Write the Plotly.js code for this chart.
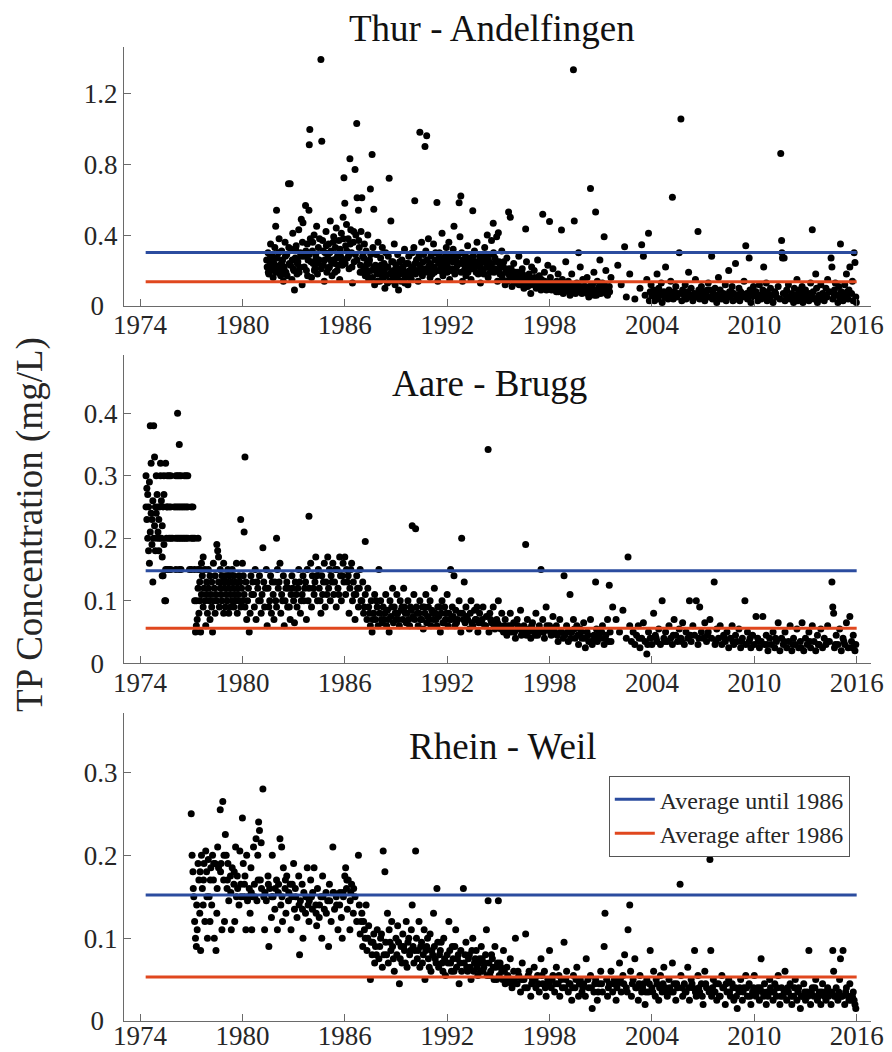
<!DOCTYPE html>
<html>
<head>
<meta charset="utf-8">
<script src="https://cdn.plot.ly/plotly-3.0.1.min.js"></script>
<style>html,body{margin:0;padding:0;background:#fff;}#chart{width:892px;height:1052px;}</style>
</head>
<body>
<div id="chart"></div>
<script>
// ---------------- DATA ----------------
const panelTitles = ["Thur - Andelfingen", "Aare - Brugg", "Rhein - Weil"];
const yAxisTitle = "TP Concentration (mg/L)";
const legendNames = ["Average until 1986", "Average after 1986"];
const xTickVals = [1974, 1980, 1986, 1992, 1998, 2004, 2010, 2016];
const yTicksThur = [0, 0.4, 0.8, 1.2];
const yTicksAare = [0, 0.1, 0.2, 0.3, 0.4];
const yTicksRhein = [0, 0.1, 0.2, 0.3];
const avgPeriod = [1974.33, 2016];
const avgUntil1986 = [0.302, 0.148, 0.152];
const avgAfter1986 = [0.137, 0.056, 0.053];

// Thur - Andelfingen samples [decimal year, TP mg/L]
const thurSamples = [
[1981.45,0.22],[1981.5,0.30],[1981.55,0.18],[1981.6,0.25],[1981.65,0.35],[1981.7,0.21],[1981.75,0.28],[1981.8,0.16],[1981.85,0.24],[1981.9,0.33],[1981.95,0.45],[1981.98,0.19],
[1982.0,0.54],[1982.05,0.27],[1982.1,0.20],[1982.15,0.38],[1982.2,0.23],[1982.25,0.17],[1982.3,0.31],[1982.35,0.26],[1982.4,0.14],[1982.45,0.22],[1982.5,0.36],[1982.55,0.19],[1982.6,0.29],[1982.7,0.69],[1982.75,0.24],[1982.8,0.69],[1982.85,0.32],[1982.9,0.15],[1982.95,0.41],[1982.98,0.21],
[1983.05,0.09],[1983.1,0.27],[1983.15,0.34],[1983.2,0.18],[1983.25,0.25],[1983.3,0.43],[1983.35,0.22],[1983.4,0.30],[1983.45,0.49],[1983.5,0.12],[1983.55,0.47],[1983.6,0.28],[1983.7,0.567],[1983.75,0.20],[1983.8,0.35],[1983.85,0.26],[1983.9,0.54],[1983.92,0.91],[1983.95,0.995],[1983.98,0.38],
[1984.05,0.16],[1984.1,0.31],[1984.15,0.24],[1984.2,0.40],[1984.25,0.21],[1984.3,0.29],[1984.35,0.45],[1984.4,0.18],[1984.45,0.33],[1984.5,0.26],[1984.6,1.39],[1984.65,0.93],[1984.7,0.37],[1984.75,0.23],[1984.8,0.14],[1984.85,0.30],[1984.9,0.42],[1984.95,0.19],
[1985.0,0.27],[1985.05,0.35],[1985.1,0.22],[1985.15,0.48],[1985.2,0.31],[1985.25,0.17],[1985.3,0.26],[1985.35,0.39],[1985.4,0.24],[1985.45,0.33],[1985.5,0.44],[1985.55,0.20],[1985.6,0.29],[1985.65,0.37],[1985.7,0.15],[1985.75,0.28],[1985.8,0.41],[1985.85,0.23],[1985.9,0.50],[1985.95,0.723],
[1986.0,0.58],[1986.05,0.34],[1986.1,0.46],[1986.15,0.27],[1986.2,0.38],[1986.25,0.21],[1986.3,0.83],[1986.35,0.43],[1986.4,0.30],[1986.45,0.13],[1986.5,0.36],[1986.55,0.25],[1986.6,0.77],[1986.65,0.40],[1986.7,1.03],[1986.72,0.61],[1986.8,0.54],[1986.85,0.33],[1986.9,0.19],[1986.95,0.42],
[1987.0,0.61],[1987.05,0.28],[1987.1,0.22],[1987.15,0.35],[1987.2,0.17],[1987.25,0.31],[1987.3,0.24],[1987.35,0.40],[1987.4,0.15],[1987.45,0.26],[1987.5,0.66],[1987.55,0.20],[1987.6,0.855],[1987.65,0.33],[1987.7,0.546],[1987.75,0.12],[1987.8,0.23],[1987.85,0.29],[1987.9,0.18],[1987.95,0.36],
[1988.0,0.21],[1988.05,0.14],[1988.1,0.27],[1988.15,0.19],[1988.2,0.33],[1988.25,0.16],[1988.3,0.24],[1988.35,0.10],[1988.4,0.30],[1988.45,0.22],[1988.5,0.13],[1988.55,0.28],[1988.6,0.72],[1988.65,0.18],[1988.7,0.48],[1988.75,0.25],[1988.8,0.15],[1988.85,0.20],[1988.9,0.35],[1988.95,0.12],
[1989.0,0.23],[1989.05,0.17],[1989.1,0.29],[1989.15,0.09],[1989.2,0.21],[1989.3,0.14],[1989.35,0.26],[1989.4,0.19],[1989.5,0.32],[1989.55,0.16],[1989.6,0.24],[1989.7,0.12],[1989.75,0.28],[1989.8,0.20],[1989.9,0.15],[1989.95,0.30],
[1990.0,0.22],[1990.05,0.33],[1990.1,0.593],[1990.15,0.18],[1990.2,0.26],[1990.3,0.14],[1990.35,0.29],[1990.4,0.98],[1990.45,0.21],[1990.5,0.36],[1990.55,0.17],[1990.6,0.25],[1990.7,0.90],[1990.75,0.31],[1990.8,0.96],[1990.85,0.19],[1990.9,0.38],[1990.95,0.23],
[1991.0,0.16],[1991.05,0.28],[1991.1,0.21],[1991.2,0.35],[1991.25,0.19],[1991.3,0.26],[1991.4,0.584],[1991.45,0.14],[1991.5,0.24],[1991.55,0.30],[1991.6,0.20],[1991.7,0.41],[1991.75,0.17],[1991.8,0.27],[1991.9,0.22],[1991.95,0.33],
[1992.0,0.19],[1992.05,0.25],[1992.1,0.36],[1992.15,0.15],[1992.2,0.28],[1992.3,0.21],[1992.35,0.32],[1992.4,0.45],[1992.45,0.18],[1992.5,0.26],[1992.6,0.23],[1992.7,0.582],[1992.75,0.39],[1992.8,0.62],[1992.85,0.30],[1992.9,0.14],[1992.95,0.24],
[1993.0,0.20],[1993.05,0.29],[1993.1,0.17],[1993.2,0.34],[1993.25,0.22],[1993.3,0.27],[1993.4,0.15],[1993.5,0.537],[1993.55,0.25],[1993.6,0.31],[1993.7,0.19],[1993.75,0.36],[1993.8,0.23],[1993.9,0.28],[1993.95,0.13],
[1994.0,0.21],[1994.1,0.26],[1994.15,0.18],[1994.2,0.33],[1994.3,0.24],[1994.35,0.40],[1994.4,0.16],[1994.5,0.29],[1994.55,0.22],[1994.6,0.37],[1994.7,0.467],[1994.75,0.19],[1994.8,0.27],[1994.9,0.39],[1994.95,0.14],
[1995.0,0.413],[1995.05,0.25],[1995.1,0.18],[1995.2,0.31],[1995.25,0.15],[1995.3,0.22],[1995.4,0.12],[1995.5,0.27],[1995.6,0.53],[1995.65,0.17],[1995.7,0.50],[1995.75,0.21],[1995.8,0.11],[1995.9,0.24],[1995.95,0.16],
[1996.0,0.19],[1996.1,0.13],[1996.2,0.28],[1996.3,0.16],[1996.4,0.21],[1996.5,0.10],[1996.6,0.434],[1996.65,0.25],[1996.7,0.14],[1996.8,0.18],[1996.9,0.07],[1996.95,0.22],
[1997.0,0.15],[1997.1,0.20],[1997.2,0.12],[1997.3,0.26],[1997.4,0.17],[1997.5,0.09],[1997.6,0.518],[1997.65,0.14],[1997.7,0.19],[1997.8,0.11],[1997.9,0.23],[1997.95,0.13],
[1998.0,0.477],[1998.05,0.16],[1998.1,0.10],[1998.2,0.21],[1998.3,0.13],[1998.4,0.08],[1998.5,0.18],[1998.6,0.11],[1998.7,0.428],[1998.75,0.15],[1998.8,0.07],[1998.9,0.12],[1998.95,0.25],
[1999.0,0.09],[1999.1,0.14],[1999.2,0.06],[1999.3,0.18],[1999.35,0.11],[1999.4,1.333],[1999.45,0.479],[1999.5,0.08],[1999.6,0.13],[1999.7,0.30],[1999.75,0.10],[1999.8,0.22],[1999.9,0.07],[1999.95,0.15],
[2000.0,0.11],[2000.1,0.08],[2000.2,0.16],[2000.3,0.05],[2000.4,0.663],[2000.45,0.12],[2000.5,0.09],[2000.6,0.19],[2000.7,0.53],[2000.75,0.06],[2000.8,0.14],[2000.9,0.10],[2000.95,0.26],
[2001.0,0.07],[2001.1,0.13],[2001.2,0.39],[2001.25,0.09],[2001.3,0.20],[2001.4,0.06],[2001.5,0.11],[2001.6,0.16],
[2002.0,0.23],[2002.2,0.12],[2002.4,0.334],[2002.5,0.05],[2002.7,0.18],
[2003.0,0.04],[2003.3,0.10],[2003.4,0.345],[2003.5,0.28],[2003.6,0.06],[2003.7,0.15],[2003.8,0.41],[2003.85,0.03],[2003.9,0.08],[2003.95,0.12],
[2004.0,0.05],[2004.1,0.09],[2004.15,0.03],[2004.2,0.07],[2004.3,0.18],[2004.35,0.04],[2004.4,0.10],[2004.5,0.06],[2004.55,0.13],[2004.6,0.02],[2004.7,0.08],[2004.75,0.05],[2004.8,0.22],[2004.9,0.07],[2004.95,0.04],
[2005.0,0.09],[2005.05,0.06],[2005.1,0.14],[2005.2,0.614],[2005.25,0.04],[2005.3,0.08],[2005.4,0.11],[2005.45,0.05],[2005.5,0.07],[2005.6,0.30],[2005.7,1.055],[2005.75,0.03],[2005.8,0.09],[2005.9,0.06],[2005.95,0.12],
[2006.0,0.04],[2006.1,0.08],[2006.15,0.19],[2006.2,0.05],[2006.3,0.10],[2006.4,0.03],[2006.5,0.07],[2006.55,0.15],[2006.6,0.05],[2006.7,0.42],[2006.75,0.09],[2006.8,0.04],[2006.9,0.11],[2006.95,0.06],
[2007.0,0.08],[2007.1,0.03],[2007.2,0.06],[2007.3,0.13],[2007.35,0.05],[2007.4,0.09],[2007.5,0.28],[2007.55,0.04],[2007.6,0.07],[2007.7,0.10],[2007.8,0.02],[2007.85,0.06],[2007.9,0.16],[2007.95,0.05],
[2008.0,0.09],[2008.1,0.04],[2008.2,0.07],[2008.3,0.12],[2008.35,0.03],[2008.4,0.06],[2008.5,0.20],[2008.55,0.08],[2008.6,0.05],[2008.7,0.11],[2008.75,0.03],[2008.8,0.07],[2008.9,0.24],[2008.95,0.04],
[2009.0,0.06],[2009.1,0.10],[2009.15,0.03],[2009.2,0.08],[2009.3,0.05],[2009.4,0.14],[2009.5,0.34],[2009.55,0.07],[2009.6,0.04],[2009.7,0.27],[2009.75,0.09],[2009.8,0.02],[2009.9,0.06],[2009.95,0.11],
[2010.0,0.05],[2010.1,0.08],[2010.2,0.03],[2010.3,0.12],[2010.35,0.06],[2010.4,0.04],[2010.5,0.09],[2010.55,0.22],[2010.6,0.05],[2010.7,0.13],[2010.75,0.03],[2010.8,0.07],[2010.9,0.04],[2010.95,0.10],
[2011.0,0.06],[2011.1,0.02],[2011.2,0.08],[2011.3,0.05],[2011.4,0.11],[2011.5,0.04],[2011.55,0.86],[2011.6,0.37],[2011.62,0.30],[2011.65,0.27],[2011.7,0.07],[2011.75,0.27],[2011.8,0.03],[2011.9,0.09],[2011.95,0.05],
[2012.0,0.12],[2012.1,0.04],[2012.2,0.07],[2012.3,0.02],[2012.35,0.10],[2012.4,0.06],[2012.5,0.15],[2012.55,0.03],[2012.6,0.08],[2012.7,0.05],[2012.8,0.11],[2012.85,0.02],[2012.9,0.07],[2012.95,0.04],
[2013.0,0.09],[2013.1,0.05],[2013.2,0.03],[2013.3,0.13],[2013.35,0.06],[2013.4,0.43],[2013.45,0.08],[2013.5,0.04],[2013.6,0.18],[2013.65,0.10],[2013.7,0.02],[2013.8,0.06],[2013.9,0.12],[2013.95,0.04],
[2014.0,0.07],[2014.1,0.03],[2014.2,0.10],[2014.25,0.05],[2014.3,0.15],[2014.4,0.08],[2014.5,0.27],[2014.55,0.22],[2014.6,0.04],[2014.7,0.09],[2014.75,0.13],[2014.8,0.06],[2014.9,0.02],[2014.95,0.11],
[2015.0,0.05],[2015.05,0.35],[2015.1,0.08],[2015.2,0.03],[2015.3,0.12],[2015.35,0.06],[2015.4,0.18],[2015.5,0.04],[2015.55,0.09],[2015.6,0.22],[2015.7,0.07],[2015.75,0.14],[2015.8,0.03],[2015.85,0.30],[2015.9,0.245],[2015.95,0.05],[2015.98,0.02],
[1981.42,0.26],[1981.52,0.19],[1981.62,0.29],[1981.72,0.24],[1981.82,0.20],[1981.92,0.27],
[1982.02,0.22],[1982.12,0.30],[1982.22,0.18],[1982.32,0.25],[1982.42,0.21],[1982.52,0.28],[1982.62,0.17],[1982.72,0.33],[1982.82,0.23],[1982.92,0.26],
[1983.02,0.20],[1983.12,0.32],[1983.22,0.24],[1983.32,0.19],[1983.42,0.28],[1983.52,0.36],[1983.62,0.22],[1983.72,0.31],[1983.82,0.17],[1983.92,0.29],
[1984.02,0.25],[1984.12,0.36],[1984.22,0.20],[1984.32,0.27],[1984.42,0.24],[1984.52,0.38],[1984.62,0.21],[1984.72,0.31],[1984.82,0.26],[1984.92,0.34],
[1985.02,0.21],[1985.12,0.30],[1985.22,0.25],[1985.32,0.36],[1985.42,0.19],[1985.52,0.27],[1985.62,0.23],[1985.72,0.32],[1985.82,0.26],[1985.92,0.38],
[1986.02,0.24],[1986.12,0.31],[1986.22,0.28],[1986.32,0.35],[1986.42,0.22],[1986.52,0.42],[1986.62,0.29],[1986.72,0.26],[1986.82,0.37],[1986.92,0.23],
[1987.02,0.19],[1987.12,0.27],[1987.22,0.21],[1987.32,0.18],[1987.42,0.24],[1987.52,0.29],[1987.62,0.16],[1987.72,0.22],[1987.82,0.20],[1987.92,0.14],
[1988.02,0.18],[1988.12,0.23],[1988.22,0.16],[1988.32,0.20],[1988.42,0.17],[1988.52,0.22],[1988.62,0.14],[1988.72,0.19],[1988.82,0.25],[1988.92,0.17],
[1989.02,0.20],[1989.12,0.15],[1989.22,0.25],[1989.32,0.18],[1989.42,0.22],[1989.52,0.13],[1989.62,0.19],[1989.72,0.24],[1989.82,0.17],[1989.92,0.21],
[1990.02,0.19],[1990.12,0.24],[1990.22,0.20],[1990.32,0.27],[1990.42,0.23],[1990.52,0.18],[1990.62,0.29],[1990.72,0.21],[1990.82,0.26],[1990.92,0.20],
[1991.02,0.24],[1991.12,0.18],[1991.22,0.22],[1991.32,0.30],[1991.42,0.20],[1991.52,0.27],[1991.62,0.23],[1991.72,0.19],[1991.82,0.25],[1991.92,0.29],
[1992.02,0.22],[1992.12,0.27],[1992.22,0.20],[1992.32,0.25],[1992.42,0.29],[1992.52,0.21],[1992.62,0.28],[1992.72,0.24],[1992.82,0.19],[1992.92,0.26],
[1993.02,0.23],[1993.12,0.26],[1993.22,0.19],[1993.32,0.24],[1993.42,0.21],[1993.52,0.28],[1993.62,0.22],[1993.72,0.25],[1993.82,0.18],[1993.92,0.23],
[1994.02,0.25],[1994.12,0.20],[1994.22,0.28],[1994.32,0.22],[1994.42,0.26],[1994.52,0.19],[1994.62,0.24],[1994.72,0.30],[1994.82,0.21],[1994.92,0.25],
[1995.02,0.20],[1995.12,0.23],[1995.22,0.17],[1995.32,0.25],[1995.42,0.19],[1995.52,0.14],[1995.62,0.21],[1995.72,0.16],[1995.82,0.19],[1995.92,0.13],
[1996.02,0.16],[1996.12,0.19],[1996.22,0.12],[1996.32,0.15],[1996.42,0.18],[1996.52,0.13],[1996.62,0.16],[1996.72,0.11],[1996.82,0.15],[1996.92,0.12],
[1997.02,0.13],[1997.12,0.16],[1997.22,0.10],[1997.32,0.14],[1997.42,0.12],[1997.52,0.15],[1997.62,0.11],[1997.72,0.14],[1997.82,0.09],[1997.92,0.12],
[1998.02,0.13],[1998.12,0.09],[1998.22,0.12],[1998.32,0.10],[1998.42,0.14],[1998.52,0.08],[1998.62,0.11],[1998.72,0.09],[1998.82,0.13],[1998.92,0.10],
[1999.02,0.12],[1999.12,0.08],[1999.22,0.11],[1999.32,0.09],[1999.42,0.12],[1999.52,0.07],[1999.62,0.10],[1999.72,0.08],[1999.82,0.11],[1999.92,0.09],
[2000.02,0.09],[2000.12,0.11],[2000.22,0.07],[2000.32,0.10],[2000.42,0.08],[2000.52,0.12],[2000.62,0.06],[2000.72,0.09],[2000.82,0.07],[2000.92,0.11],
[2001.02,0.10],[2001.12,0.08],[2001.22,0.12],[2001.32,0.07],[2001.42,0.09],[2001.52,0.08],
[2004.05,0.06],[2004.45,0.08],[2005.15,0.05],[2005.65,0.07],[2006.25,0.06],[2006.85,0.07],[2007.25,0.09],[2007.65,0.05],[2008.25,0.06],[2008.65,0.08],[2009.25,0.07],[2009.65,0.05],[2010.25,0.06],[2010.65,0.08],[2011.25,0.07],[2011.85,0.06],[2012.25,0.05],[2012.65,0.09],[2013.25,0.07],[2013.75,0.05],[2014.15,0.06],[2014.65,0.07],[2015.15,0.06],[2015.45,0.08]
];

// Aare - Brugg samples [decimal year, TP mg/L]
const aareSamples = [
[1974.35,0.30],[1974.35,0.25],[1974.4,0.28],[1974.4,0.23],[1974.45,0.20],[1974.45,0.27],[1974.5,0.18],[1974.5,0.25],[1974.55,0.16],[1974.55,0.29],[1974.6,0.21],[1974.6,0.38],[1974.65,0.24],[1974.65,0.32],[1974.7,0.19],[1974.7,0.23],[1974.75,0.26],[1974.75,0.13],[1974.8,0.38],[1974.8,0.20],[1974.85,0.33],[1974.85,0.22],[1974.9,0.25],[1974.9,0.18],[1974.95,0.30],[1974.95,0.24],[1975.0,0.20],[1975.0,0.27],[1975.05,0.21],[1975.05,0.25],[1975.1,0.23],[1975.1,0.18],[1975.15,0.25],[1975.15,0.20],[1975.2,0.30],[1975.2,0.32],[1975.25,0.26],[1975.25,0.20],[1975.3,0.17],[1975.3,0.22],[1975.35,0.14],[1975.35,0.25],[1975.4,0.19],[1975.4,0.30],[1975.45,0.10],[1975.5,0.10],[1975.5,0.15],[1975.55,0.25],[1975.55,0.20],[1975.6,0.30],[1975.6,0.15],
[1975.7,0.30],[1975.8,0.30],[1976.1,0.30],[1976.2,0.30],[1976.3,0.30],[1976.4,0.30],[1976.6,0.30],[1976.7,0.30],[1976.8,0.30],
[1975.6,0.25],[1975.7,0.25],[1975.8,0.25],[1976.0,0.25],[1976.1,0.25],[1976.2,0.25],[1976.3,0.25],[1976.4,0.25],[1976.5,0.25],[1976.6,0.25],[1976.7,0.25],[1976.8,0.25],[1977.0,0.25],[1977.1,0.25],
[1975.7,0.20],[1975.8,0.20],[1975.9,0.20],[1976.1,0.20],[1976.2,0.20],[1976.3,0.20],[1976.4,0.20],[1976.5,0.20],[1976.6,0.20],[1976.7,0.20],[1976.8,0.20],[1977.0,0.20],[1977.1,0.20],[1977.2,0.20],[1977.4,0.20],
[1975.7,0.15],[1975.8,0.15],[1976.1,0.15],[1976.3,0.15],[1976.4,0.15],[1976.9,0.15],[1977.0,0.15],[1977.2,0.15],[1977.4,0.15],[1977.5,0.15],
[1976.2,0.40],[1976.3,0.35],[1975.5,0.32],[1975.4,0.27],[1975.3,0.14],
[1977.2,0.10],[1977.25,0.05],[1977.3,0.06],[1977.3,0.10],[1977.35,0.07],[1977.4,0.12],[1977.45,0.08],[1977.5,0.10],[1977.5,0.13],[1977.55,0.05],[1977.6,0.16],[1977.6,0.11],[1977.65,0.14],[1977.7,0.09],[1977.7,0.17],[1977.75,0.12],[1977.8,0.10],[1977.8,0.15],[1977.85,0.06],[1977.9,0.13],[1977.9,0.11],[1977.95,0.08],
[1978.0,0.12],[1978.0,0.15],[1978.05,0.10],[1978.1,0.14],[1978.1,0.07],[1978.15,0.11],[1978.2,0.13],[1978.2,0.09],[1978.25,0.05],[1978.3,0.16],[1978.3,0.10],[1978.35,0.12],[1978.4,0.14],[1978.4,0.08],[1978.45,0.11],[1978.5,0.19],[1978.5,0.10],[1978.55,0.18],[1978.6,0.13],[1978.6,0.17],[1978.65,0.09],[1978.7,0.12],[1978.7,0.15],[1978.75,0.11],[1978.8,0.14],[1978.8,0.10],[1978.85,0.13],[1978.9,0.08],[1978.9,0.16],[1978.95,0.12],
[1979.0,0.14],[1979.0,0.09],[1979.05,0.11],[1979.1,0.13],[1979.1,0.10],[1979.15,0.15],[1979.2,0.12],[1979.2,0.08],[1979.25,0.14],[1979.3,0.11],[1979.3,0.09],[1979.35,0.13],[1979.4,0.10],[1979.4,0.15],[1979.45,0.12],[1979.5,0.09],[1979.5,0.14],[1979.55,0.11],[1979.6,0.13],[1979.6,0.10],[1979.65,0.16],[1979.7,0.12],[1979.7,0.08],[1979.75,0.11],[1979.8,0.14],[1979.8,0.10],[1979.85,0.13],[1979.9,0.23],[1979.9,0.09],[1979.95,0.12],
[1980.0,0.16],[1980.0,0.10],[1980.05,0.14],[1980.1,0.21],[1980.1,0.11],[1980.15,0.33],[1980.15,0.09],[1980.2,0.13],[1980.25,0.07],[1980.3,0.10],[1980.35,0.12],[1980.4,0.05],[1980.45,0.08],[1980.5,0.14],[1980.55,0.11],
[1980.6,0.13],[1980.7,0.09],[1980.75,0.15],[1980.8,0.07],[1980.9,0.12],[1980.95,0.10],[1981.0,0.14],[1981.1,0.08],[1981.15,0.11],[1981.2,0.185],[1981.25,0.13],[1981.3,0.09],[1981.4,0.15],[1981.45,0.06],[1981.5,0.12],[1981.6,0.10],[1981.65,0.14],[1981.7,0.08],[1981.8,0.11],[1981.85,0.07],[1981.9,0.13],
[1982.0,0.20],[1982.0,0.09],[1982.05,0.15],[1982.1,0.12],[1982.2,0.16],[1982.25,0.08],[1982.3,0.11],[1982.4,0.14],[1982.45,0.06],[1982.5,0.10],[1982.6,0.13],[1982.65,0.09],[1982.7,0.12],[1982.8,0.07],[1982.85,0.11],[1982.9,0.14],
[1983.0,0.10],[1983.05,0.065],[1983.1,0.13],[1983.2,0.09],[1983.25,0.12],[1983.3,0.15],[1983.4,0.08],[1983.5,0.11],[1983.55,0.14],[1983.6,0.10],[1983.7,0.13],[1983.75,0.07],[1983.8,0.15],[1983.9,0.235],[1983.9,0.12],
[1984.0,0.16],[1984.05,0.09],[1984.1,0.14],[1984.2,0.11],[1984.25,0.13],[1984.3,0.17],[1984.4,0.10],[1984.45,0.15],[1984.5,0.12],[1984.6,0.08],[1984.65,0.14],[1984.7,0.11],[1984.8,0.16],[1984.85,0.09],[1984.9,0.13],
[1985.0,0.17],[1985.05,0.12],[1985.1,0.15],[1985.15,0.10],[1985.2,0.14],[1985.3,0.16],[1985.35,0.11],[1985.4,0.13],[1985.5,0.09],[1985.55,0.15],[1985.6,0.12],[1985.7,0.17],[1985.75,0.14],[1985.8,0.10],[1985.9,0.16],[1985.95,0.13],
[1986.0,0.17],[1986.05,0.11],[1986.1,0.15],[1986.2,0.14],[1986.25,0.08],[1986.3,0.12],[1986.4,0.16],[1986.45,0.10],[1986.5,0.13],[1986.6,0.07],[1986.65,0.11],[1986.7,0.14],[1986.8,0.09],[1986.85,0.12],[1986.9,0.15],
[1987.0,0.10],[1987.05,0.13],[1987.1,0.08],[1987.2,0.195],[1987.2,0.11],[1987.3,0.07],[1987.35,0.12],[1987.4,0.09],[1987.5,0.06],[1987.55,0.10],[1987.6,0.05],[1987.7,0.08],[1987.75,0.11],[1987.8,0.07],[1987.9,0.09],[1987.95,0.06],
[1988.0,0.15],[1988.05,0.08],[1988.1,0.10],[1988.2,0.065],[1988.25,0.09],[1988.3,0.07],[1988.4,0.11],[1988.45,0.06],[1988.5,0.085],[1988.6,0.05],[1988.65,0.10],[1988.7,0.075],[1988.8,0.12],[1988.85,0.065],[1988.9,0.09],
[1989.0,0.07],[1989.05,0.11],[1989.1,0.08],[1989.2,0.06],[1989.25,0.10],[1989.3,0.085],[1989.4,0.07],[1989.45,0.12],[1989.5,0.09],[1989.6,0.065],[1989.65,0.08],[1989.7,0.10],[1989.8,0.06],[1989.85,0.09],[1989.95,0.22],[1990.0,0.075],
[1990.05,0.11],[1990.1,0.07],[1990.15,0.215],[1990.2,0.09],[1990.3,0.06],[1990.35,0.08],[1990.4,0.10],[1990.5,0.07],[1990.55,0.09],[1990.6,0.055],[1990.7,0.08],[1990.75,0.11],[1990.8,0.065],[1990.9,0.09],[1990.95,0.07],
[1991.0,0.10],[1991.05,0.06],[1991.1,0.085],[1991.2,0.07],[1991.25,0.12],[1991.3,0.08],[1991.4,0.06],[1991.45,0.09],[1991.5,0.075],[1991.6,0.05],[1991.65,0.08],[1991.7,0.10],[1991.8,0.065],[1991.85,0.09],[1991.9,0.07],
[1992.0,0.11],[1992.05,0.06],[1992.1,0.08],[1992.2,0.15],[1992.25,0.07],[1992.3,0.09],[1992.4,0.14],[1992.45,0.06],[1992.5,0.085],[1992.6,0.07],[1992.7,0.10],[1992.8,0.05],[1992.85,0.20],[1992.9,0.08],
[1993.0,0.13],[1993.05,0.065],[1993.1,0.09],[1993.2,0.07],[1993.3,0.055],[1993.35,0.08],[1993.4,0.10],[1993.5,0.06],[1993.6,0.085],[1993.7,0.07],[1993.75,0.09],[1993.8,0.05],[1993.9,0.08],
[1994.0,0.065],[1994.1,0.09],[1994.2,0.06],[1994.3,0.075],[1994.4,0.342],[1994.45,0.05],[1994.5,0.08],[1994.6,0.065],[1994.7,0.09],[1994.8,0.055],[1994.9,0.07],
[1995.0,0.10],[1995.1,0.06],[1995.2,0.08],[1995.3,0.05],[1995.4,0.07],[1995.5,0.045],[1995.6,0.06],[1995.7,0.08],[1995.8,0.05],[1995.9,0.065],
[1996.0,0.04],[1996.1,0.07],[1996.2,0.055],[1996.3,0.085],[1996.4,0.05],[1996.5,0.06],[1996.6,0.19],[1996.65,0.045],[1996.7,0.07],[1996.8,0.055],[1996.9,0.04],
[1997.0,0.065],[1997.1,0.05],[1997.2,0.08],[1997.3,0.045],[1997.4,0.06],[1997.5,0.15],[1997.55,0.05],[1997.6,0.07],[1997.7,0.04],[1997.8,0.09],[1997.9,0.055],
[1998.0,0.06],[1998.1,0.045],[1998.2,0.075],[1998.3,0.05],[1998.4,0.06],[1998.5,0.035],[1998.6,0.07],[1998.7,0.05],[1998.85,0.14],[1998.9,0.045],
[1999.0,0.06],[1999.1,0.035],[1999.2,0.11],[1999.3,0.05],[1999.4,0.07],[1999.5,0.04],[1999.6,0.06],[1999.7,0.03],[1999.8,0.055],[1999.9,0.04],
[2000.0,0.065],[2000.1,0.025],[2000.2,0.05],[2000.3,0.035],[2000.4,0.07],[2000.5,0.03],[2000.6,0.045],[2000.7,0.13],[2000.75,0.055],[2000.8,0.035],[2000.9,0.05],
[2001.0,0.04],[2001.1,0.06],[2001.2,0.03],[2001.3,0.045],[2001.4,0.07],[2001.5,0.125],[2001.55,0.05],[2001.6,0.035],[2001.7,0.09],[2001.9,0.07],
[2002.1,0.05],[2002.3,0.085],[2002.5,0.04],[2002.6,0.17],[2002.7,0.06],[2002.8,0.035],[2002.9,0.05],
[2003.0,0.03],[2003.1,0.045],[2003.2,0.06],[2003.3,0.025],[2003.4,0.04],[2003.5,0.065],[2003.6,0.035],[2003.7,0.015],[2003.8,0.05],[2003.9,0.04],
[2004.0,0.03],[2004.1,0.08],[2004.2,0.045],[2004.3,0.035],[2004.4,0.055],[2004.5,0.03],[2004.6,0.10],[2004.7,0.04],[2004.8,0.05],[2004.9,0.035],
[2005.0,0.06],[2005.1,0.04],[2005.2,0.03],[2005.3,0.07],[2005.4,0.045],[2005.5,0.035],[2005.6,0.055],[2005.7,0.04],[2005.8,0.065],[2005.9,0.03],
[2006.0,0.05],[2006.1,0.04],[2006.2,0.10],[2006.3,0.035],[2006.4,0.06],[2006.5,0.045],[2006.6,0.10],[2006.7,0.03],[2006.8,0.09],[2006.9,0.05],
[2007.0,0.04],[2007.1,0.065],[2007.2,0.035],[2007.3,0.05],[2007.4,0.07],[2007.5,0.04],[2007.65,0.13],[2007.7,0.03],[2007.8,0.055],[2007.9,0.04],
[2008.0,0.06],[2008.1,0.03],[2008.2,0.045],[2008.3,0.035],[2008.4,0.05],[2008.5,0.025],[2008.6,0.04],[2008.7,0.06],[2008.8,0.03],[2008.9,0.045],
[2009.0,0.035],[2009.1,0.055],[2009.2,0.025],[2009.3,0.04],[2009.45,0.10],[2009.5,0.03],[2009.6,0.05],[2009.7,0.035],[2009.8,0.025],[2009.9,0.045],
[2010.0,0.03],[2010.1,0.075],[2010.2,0.04],[2010.3,0.025],[2010.4,0.035],[2010.5,0.075],[2010.6,0.03],[2010.7,0.045],[2010.8,0.02],[2010.9,0.04],
[2011.0,0.03],[2011.1,0.05],[2011.2,0.025],[2011.3,0.035],[2011.4,0.065],[2011.5,0.02],[2011.6,0.04],[2011.7,0.03],[2011.8,0.05],[2011.9,0.025],
[2012.0,0.035],[2012.1,0.06],[2012.2,0.02],[2012.3,0.04],[2012.4,0.03],[2012.5,0.055],[2012.6,0.025],[2012.7,0.035],[2012.8,0.065],[2012.9,0.02],
[2013.0,0.04],[2013.1,0.03],[2013.2,0.05],[2013.3,0.025],[2013.4,0.06],[2013.5,0.035],[2013.6,0.02],[2013.7,0.045],[2013.8,0.03],[2013.9,0.055],
[2014.0,0.025],[2014.1,0.04],[2014.2,0.03],[2014.3,0.06],[2014.4,0.035],[2014.55,0.13],[2014.6,0.09],[2014.65,0.08],[2014.7,0.025],[2014.8,0.045],[2014.9,0.03],
[2015.0,0.055],[2015.1,0.02],[2015.2,0.04],[2015.3,0.03],[2015.4,0.065],[2015.5,0.025],[2015.6,0.075],[2015.7,0.035],[2015.8,0.045],[2015.9,0.02],[2015.95,0.03],
[1980.65,0.11],[1980.85,0.13],[1981.05,0.10],[1981.35,0.12],[1981.55,0.09],[1981.75,0.13],[1981.95,0.10],[1982.15,0.13],[1982.35,0.10],[1982.55,0.12],[1982.75,0.09],[1982.95,0.12],[1983.15,0.11],[1983.35,0.13],[1983.45,0.10],[1983.65,0.12],[1983.85,0.10],[1984.15,0.12],[1984.35,0.14],[1984.55,0.10],[1984.75,0.13],[1984.95,0.11],[1985.25,0.13],[1985.45,0.15],[1985.65,0.11],[1985.85,0.14],[1986.15,0.13],[1986.35,0.15],[1986.55,0.11],[1986.75,0.12],[1986.95,0.10],
[1987.15,0.09],[1987.45,0.08],[1987.65,0.07],[1987.85,0.10],[1988.15,0.07],[1988.35,0.08],[1988.55,0.07],[1988.75,0.09],[1988.95,0.08],[1989.15,0.07],[1989.35,0.09],[1989.55,0.08],[1989.75,0.07],[1989.9,0.085],[1990.25,0.08],[1990.45,0.07],[1990.65,0.09],[1990.85,0.075],[1991.15,0.08],[1991.35,0.07],[1991.55,0.09],[1991.75,0.065],[1991.95,0.08],[1992.15,0.07],[1992.35,0.075],[1992.55,0.065],[1992.75,0.08],[1992.95,0.07],[1993.15,0.075],[1993.45,0.065],[1993.65,0.07],[1993.85,0.065],[1994.05,0.07],[1994.25,0.06],[1994.55,0.07],[1994.75,0.06],[1994.95,0.065],[1995.15,0.055],[1995.35,0.06],[1995.55,0.05],
[1995.75,0.06],[1995.95,0.05],[1996.15,0.06],[1996.35,0.045],[1996.55,0.055],[1996.75,0.05],[1996.95,0.06],[1997.15,0.045],[1997.35,0.055],[1997.65,0.05],[1997.85,0.06],[1998.05,0.05],[1998.25,0.055],[1998.45,0.045],[1998.65,0.05],[1998.8,0.04],[1999.05,0.05],[1999.25,0.04],[1999.45,0.055],[1999.65,0.045],[1999.85,0.05],[2000.05,0.04],[2000.25,0.045],[2000.45,0.035],[2000.65,0.04],[2000.85,0.045],[2001.05,0.05],[2001.25,0.04],[2001.45,0.035],
[2003.25,0.04],[2003.75,0.03],[2004.25,0.04],[2004.75,0.035],[2005.25,0.045],[2005.75,0.035],[2006.25,0.045],[2006.75,0.04],[2007.25,0.045],[2007.75,0.035],[2008.25,0.04],[2008.75,0.035],[2009.25,0.035],[2009.75,0.04],[2010.25,0.035],[2010.75,0.03],[2011.25,0.04],[2011.75,0.035],[2012.25,0.03],[2012.75,0.025],[2013.25,0.035],[2013.75,0.03],[2014.25,0.035],[2014.75,0.03],[2015.25,0.035],[2015.75,0.025]
];

// Rhein - Weil samples [decimal year, TP mg/L]
const rheinSamples = [
[1977.0,0.25],[1977.05,0.20],[1977.1,0.18],[1977.15,0.15],[1977.2,0.12],[1977.25,0.10],[1977.3,0.09],[1977.35,0.11],[1977.4,0.19],[1977.45,0.17],[1977.5,0.13],[1977.55,0.085],[1977.6,0.20],[1977.65,0.16],[1977.7,0.14],[1977.75,0.19],[1977.8,0.12],[1977.85,0.205],[1977.9,0.18],[1977.95,0.10],
[1978.0,0.195],[1978.05,0.15],[1978.1,0.12],[1978.15,0.185],[1978.2,0.14],[1978.25,0.20],[1978.3,0.17],[1978.35,0.10],[1978.4,0.19],[1978.45,0.085],[1978.5,0.13],[1978.55,0.21],[1978.6,0.185],[1978.7,0.255],[1978.75,0.19],[1978.8,0.11],[1978.85,0.265],[1978.9,0.17],[1978.95,0.12],
[1979.0,0.225],[1979.05,0.20],[1979.1,0.16],[1979.15,0.19],[1979.2,0.145],[1979.3,0.175],[1979.35,0.11],[1979.4,0.185],[1979.5,0.165],[1979.55,0.12],[1979.6,0.21],[1979.65,0.15],[1979.7,0.175],[1979.8,0.14],[1979.85,0.205],[1979.9,0.165],
[1980.0,0.245],[1980.05,0.19],[1980.1,0.15],[1980.15,0.175],[1980.2,0.11],[1980.25,0.20],[1980.3,0.145],[1980.4,0.16],[1980.45,0.13],[1980.5,0.185],[1980.55,0.11],[1980.6,0.15],[1980.65,0.21],[1980.7,0.165],[1980.8,0.22],[1980.85,0.145],[1980.9,0.20],[1980.95,0.24],
[1981.0,0.23],[1981.05,0.17],[1981.1,0.215],[1981.2,0.28],[1981.25,0.15],[1981.3,0.11],[1981.4,0.145],[1981.5,0.175],[1981.55,0.09],[1981.6,0.16],[1981.7,0.125],[1981.75,0.20],[1981.8,0.15],[1981.9,0.135],
[1982.0,0.17],[1982.05,0.11],[1982.1,0.155],[1982.2,0.22],[1982.25,0.14],[1982.3,0.21],[1982.35,0.12],[1982.4,0.185],[1982.5,0.16],[1982.55,0.13],[1982.6,0.175],[1982.7,0.145],[1982.8,0.165],[1982.85,0.11],[1982.9,0.15],
[1983.0,0.19],[1983.05,0.135],[1983.1,0.16],[1983.2,0.125],[1983.3,0.175],[1983.35,0.08],[1983.4,0.145],[1983.5,0.165],[1983.55,0.10],[1983.6,0.155],[1983.7,0.13],[1983.8,0.185],[1983.85,0.14],[1983.9,0.12],
[1984.0,0.17],[1984.05,0.15],[1984.1,0.135],[1984.2,0.185],[1984.3,0.14],[1984.35,0.115],[1984.4,0.16],[1984.5,0.125],[1984.6,0.15],[1984.65,0.10],[1984.7,0.175],[1984.8,0.135],[1984.9,0.155],
[1985.0,0.145],[1985.05,0.09],[1985.1,0.165],[1985.2,0.12],[1985.3,0.21],[1985.35,0.155],[1985.4,0.135],[1985.5,0.15],[1985.6,0.11],[1985.7,0.14],[1985.8,0.125],[1985.85,0.10],[1985.9,0.155],
[1986.0,0.175],[1986.05,0.185],[1986.1,0.16],[1986.15,0.135],[1986.2,0.17],[1986.3,0.11],[1986.35,0.155],[1986.4,0.165],[1986.5,0.13],[1986.6,0.15],[1986.7,0.12],[1986.8,0.20],[1986.85,0.14],[1986.9,0.105],
[1987.0,0.13],[1987.05,0.09],[1987.1,0.12],[1987.2,0.10],[1987.25,0.14],[1987.3,0.085],[1987.4,0.115],[1987.5,0.05],[1987.55,0.095],[1987.6,0.08],[1987.7,0.105],[1987.75,0.07],[1987.8,0.09],[1987.9,0.11],
[1988.0,0.075],[1988.1,0.10],[1988.2,0.065],[1988.25,0.205],[1988.3,0.08],[1988.35,0.18],[1988.4,0.095],[1988.5,0.13],[1988.55,0.07],[1988.6,0.11],[1988.7,0.085],[1988.75,0.12],[1988.8,0.09],[1988.9,0.06],
[1989.0,0.10],[1989.05,0.08],[1989.1,0.115],[1989.2,0.045],[1989.3,0.09],[1989.35,0.07],[1989.4,0.105],[1989.5,0.085],[1989.6,0.12],[1989.65,0.065],[1989.7,0.095],[1989.8,0.08],[1989.9,0.11],[1989.95,0.14],
[1990.0,0.09],[1990.05,0.07],[1990.15,0.205],[1990.2,0.10],[1990.3,0.085],[1990.35,0.12],[1990.4,0.065],[1990.5,0.095],[1990.6,0.08],[1990.65,0.11],[1990.7,0.05],[1990.8,0.09],[1990.9,0.075],
[1991.0,0.105],[1991.05,0.06],[1991.1,0.085],[1991.2,0.13],[1991.3,0.075],[1991.4,0.16],[1991.45,0.095],[1991.5,0.065],[1991.6,0.085],[1991.7,0.07],[1991.8,0.10],[1991.9,0.055],
[1992.0,0.08],[1992.1,0.12],[1992.2,0.07],[1992.3,0.09],[1992.4,0.06],[1992.5,0.11],[1992.6,0.075],[1992.7,0.045],[1992.8,0.085],[1992.95,0.16],
[1993.0,0.07],[1993.1,0.095],[1993.2,0.06],[1993.3,0.08],[1993.4,0.05],[1993.5,0.10],[1993.6,0.07],[1993.7,0.085],[1993.8,0.055],[1993.9,0.075],
[1994.0,0.09],[1994.1,0.06],[1994.2,0.07],[1994.3,0.11],[1994.4,0.145],[1994.5,0.055],[1994.6,0.08],[1994.7,0.065],[1994.8,0.09],[1994.9,0.05],
[1995.0,0.145],[1995.1,0.07],[1995.2,0.06],[1995.3,0.085],[1995.4,0.045],[1995.5,0.065],[1995.6,0.05],[1995.7,0.075],[1995.8,0.04],[1995.9,0.06],
[1996.0,0.10],[1996.1,0.045],[1996.2,0.055],[1996.3,0.035],[1996.4,0.07],[1996.5,0.05],[1996.6,0.105],[1996.7,0.04],[1996.8,0.06],[1996.9,0.03],
[1997.0,0.05],[1997.1,0.065],[1997.2,0.04],[1997.3,0.055],[1997.4,0.035],[1997.5,0.075],[1997.6,0.045],[1997.7,0.06],[1997.8,0.03],[1997.9,0.05],
[1998.0,0.085],[1998.1,0.04],[1998.2,0.055],[1998.3,0.035],[1998.4,0.065],[1998.5,0.045],[1998.6,0.03],[1998.7,0.05],[1998.85,0.095],[1998.9,0.04],
[1999.0,0.06],[1999.1,0.035],[1999.2,0.045],[1999.3,0.025],[1999.4,0.055],[1999.5,0.04],[1999.6,0.065],[1999.7,0.03],[1999.8,0.05],[1999.9,0.035],
[2000.0,0.045],[2000.1,0.03],[2000.15,0.075],[2000.3,0.04],[2000.4,0.055],[2000.5,0.015],[2000.6,0.035],[2000.7,0.05],[2000.8,0.025],[2000.9,0.045],
[2001.0,0.06],[2001.1,0.035],[2001.2,0.09],[2001.25,0.13],[2001.35,0.05],[2001.4,0.03],[2001.5,0.045],[2001.6,0.06],[2001.7,0.035],[2001.8,0.05],[2001.9,0.025],
[2002.0,0.045],[2002.1,0.07],[2002.2,0.035],[2002.3,0.055],[2002.4,0.08],[2002.5,0.04],[2002.6,0.11],[2002.7,0.14],[2002.75,0.06],[2002.8,0.03],[2002.9,0.05],
[2003.0,0.075],[2003.1,0.04],[2003.2,0.025],[2003.3,0.055],[2003.4,0.035],[2003.5,0.045],[2003.6,0.02],[2003.7,0.05],[2003.8,0.035],[2003.9,0.085],
[2004.0,0.04],[2004.1,0.06],[2004.2,0.03],[2004.3,0.045],[2004.4,0.025],[2004.5,0.055],[2004.6,0.035],[2004.7,0.065],[2004.8,0.04],[2004.9,0.03],
[2005.0,0.05],[2005.1,0.035],[2005.2,0.07],[2005.3,0.045],[2005.4,0.025],[2005.5,0.04],[2005.65,0.165],[2005.7,0.055],[2005.8,0.03],[2005.9,0.045],
[2006.0,0.035],[2006.1,0.065],[2006.2,0.025],[2006.3,0.05],[2006.4,0.04],[2006.5,0.085],[2006.6,0.03],[2006.7,0.055],[2006.8,0.035],[2006.9,0.045],
[2007.0,0.02],[2007.1,0.06],[2007.2,0.04],[2007.4,0.195],[2007.45,0.085],[2007.5,0.03],[2007.6,0.05],[2007.7,0.035],[2007.8,0.025],[2007.9,0.045],
[2008.0,0.03],[2008.1,0.055],[2008.2,0.04],[2008.3,0.02],[2008.4,0.035],[2008.5,0.05],[2008.6,0.03],[2008.7,0.045],[2008.8,0.025],[2008.9,0.04],
[2009.0,0.015],[2009.1,0.035],[2009.2,0.05],[2009.3,0.025],[2009.4,0.04],[2009.5,0.055],[2009.6,0.03],[2009.7,0.045],[2009.8,0.02],[2009.9,0.035],
[2010.0,0.055],[2010.1,0.03],[2010.2,0.04],[2010.3,0.025],[2010.4,0.075],[2010.5,0.035],[2010.6,0.045],[2010.7,0.02],[2010.8,0.03],[2010.9,0.05],
[2011.0,0.035],[2011.1,0.025],[2011.2,0.045],[2011.3,0.03],[2011.4,0.055],[2011.5,0.02],[2011.6,0.04],[2011.7,0.03],[2011.8,0.06],[2011.9,0.025],
[2012.0,0.035],[2012.1,0.045],[2012.2,0.02],[2012.3,0.03],[2012.4,0.05],[2012.5,0.025],[2012.6,0.04],[2012.7,0.015],[2012.8,0.03],[2012.9,0.045],
[2013.0,0.025],[2013.1,0.035],[2013.2,0.085],[2013.3,0.02],[2013.4,0.04],[2013.5,0.03],[2013.6,0.05],[2013.7,0.025],[2013.8,0.035],[2013.9,0.02],
[2014.0,0.045],[2014.1,0.03],[2014.2,0.025],[2014.3,0.04],[2014.4,0.035],[2014.5,0.02],[2014.6,0.085],[2014.65,0.06],[2014.7,0.03],[2014.8,0.04],[2014.9,0.025],
[2015.0,0.05],[2015.05,0.075],[2015.1,0.03],[2015.2,0.085],[2015.3,0.02],[2015.4,0.04],[2015.5,0.03],[2015.6,0.045],[2015.7,0.025],[2015.8,0.035],[2015.9,0.02],[2015.95,0.015],
[1977.12,0.16],[1977.32,0.14],[1977.52,0.18],[1977.72,0.17],[1977.92,0.15],[1978.12,0.17],[1978.32,0.19],[1978.52,0.16],[1978.72,0.18],[1978.92,0.20],[1979.12,0.17],[1979.32,0.155],[1979.52,0.18],[1979.72,0.16],[1979.92,0.15],[1980.12,0.165],[1980.32,0.15],[1980.52,0.155],[1980.72,0.15],[1980.92,0.17],[1981.12,0.16],[1981.32,0.155],[1981.52,0.165],[1981.72,0.15],[1981.92,0.16],[1982.12,0.165],[1982.32,0.15],[1982.52,0.17],[1982.72,0.155],[1982.92,0.165],[1983.12,0.15],[1983.32,0.14],[1983.52,0.135],[1983.72,0.15],[1983.92,0.145],[1984.12,0.155],[1984.32,0.13],[1984.52,0.14],[1984.72,0.15],[1984.92,0.13],[1985.12,0.145],[1985.32,0.155],[1985.52,0.14],[1985.72,0.155],[1985.92,0.15],[1986.12,0.17],[1986.32,0.145],[1986.52,0.16],
[1986.95,0.12],[1987.15,0.11],[1987.35,0.10],[1987.65,0.095],[1987.85,0.08],[1988.05,0.09],[1988.15,0.105],[1988.45,0.08],[1988.65,0.095],[1988.85,0.075],[1989.15,0.095],[1989.25,0.075],[1989.45,0.09],[1989.55,0.07],[1989.75,0.10],[1989.85,0.085],[1990.1,0.085],[1990.25,0.075],[1990.45,0.09],[1990.55,0.07],[1990.75,0.085],[1990.85,0.10],[1990.95,0.065],[1991.15,0.08],[1991.25,0.09],[1991.35,0.07],[1991.55,0.08],[1991.65,0.095],[1991.75,0.06],[1991.85,0.075],[1992.05,0.07],[1992.15,0.085],[1992.25,0.06],[1992.35,0.075],[1992.45,0.09],[1992.55,0.065],[1992.65,0.08],[1992.75,0.07],[1992.85,0.06],[1993.05,0.08],[1993.15,0.065],[1993.25,0.075],[1993.35,0.065],[1993.45,0.085],[1993.55,0.06],[1993.65,0.075],[1993.75,0.065],[1993.85,0.07],[1993.95,0.06],[1994.05,0.075],[1994.15,0.065],[1994.25,0.08],[1994.35,0.055],[1994.45,0.07],[1994.55,0.06],[1994.65,0.075],[1994.75,0.05],[1994.85,0.065],[1994.95,0.07],[1995.05,0.055],[1995.15,0.065],[1995.25,0.05],[1995.35,0.06],
[1995.55,0.055],[1995.75,0.045],[1995.95,0.05],[1996.15,0.06],[1996.35,0.05],[1996.55,0.04],[1996.75,0.055],[1996.95,0.045],[1997.15,0.05],[1997.35,0.045],[1997.55,0.055],[1997.75,0.04],[1997.95,0.045],[1998.15,0.05],[1998.35,0.045],[1998.55,0.055],[1998.75,0.04],[1998.95,0.05],[1999.15,0.045],[1999.35,0.04],[1999.55,0.05],[1999.75,0.045],[1999.95,0.04],[2000.25,0.05],[2000.45,0.04],[2000.65,0.045],[2000.85,0.035],[2001.05,0.045],[2001.45,0.04],[2001.75,0.045],[2001.95,0.04],[2002.15,0.05],[2002.35,0.045],[2002.55,0.035],[2002.85,0.045],[2003.05,0.04],[2003.25,0.045],[2003.45,0.04],[2003.65,0.035],[2003.85,0.045],[2004.05,0.035],[2004.25,0.05],[2004.45,0.04],[2004.65,0.045],[2004.85,0.035],[2005.05,0.04],[2005.25,0.035],[2005.45,0.045],[2005.75,0.04],[2005.95,0.035],[2006.15,0.04],[2006.35,0.045],[2006.55,0.035],[2006.75,0.04],[2006.95,0.03],[2007.15,0.045],[2007.35,0.035],[2007.55,0.04],[2007.75,0.045],[2007.95,0.03],[2008.15,0.04],[2008.35,0.045],[2008.55,0.035],[2008.75,0.04],[2008.95,0.03],[2009.15,0.04],[2009.35,0.035],[2009.55,0.04],[2009.75,0.03],[2009.95,0.04],[2010.15,0.035],[2010.35,0.04],[2010.55,0.03],[2010.75,0.035],[2010.95,0.04],[2011.15,0.035],[2011.35,0.04],[2011.55,0.03],[2011.75,0.035],[2011.95,0.04],[2012.15,0.03],[2012.35,0.04],[2012.55,0.035],[2012.75,0.03],[2012.95,0.035],[2013.15,0.03],[2013.35,0.035],[2013.55,0.04],[2013.75,0.03],[2013.95,0.035],[2014.15,0.035],[2014.35,0.03],[2014.55,0.035],[2014.75,0.03],[2014.95,0.035],[2015.15,0.03],[2015.35,0.035],[2015.55,0.025],[2015.75,0.03],[2015.85,0.025]
];

// ---------------- STYLE ----------------
const FONT = "Liberation Serif";
const TEXT = "#262626";
const AXIS = "#6a6a6a";
const BLUE = "#2b4c9f";
const RED = "#e0471e";

const panels = [
  {samples: thurSamples, ticks: yTicksThur, range: [0, 1.461], dom: [0.7341, 1.0], titleY: 1.0195, titleX: 0.492, standoff: -5},
  {samples: aareSamples, ticks: yTicksAare, range: [0, 0.493], dom: [0.3672, 0.6838], titleY: 0.6546, titleX: 0.489, standoff: -5},
  {samples: rheinSamples, ticks: yTicksRhein, range: [0, 0.372], dom: [0.0, 0.3165], titleY: 0.2822, titleX: 0.507, standoff: -9}
];

// y tick label text: the zero label sits a little left of the axis corner (as in the reference)
const yLabel = v => (v === 0 ? "0\u2002" : String(v));

const traces = [];
const layout = {
  width: 892, height: 1052,
  margin: {l: 124, r: 21, t: 47, b: 31},
  paper_bgcolor: "#ffffff", plot_bgcolor: "rgba(0,0,0,0)",
  font: {family: FONT, color: TEXT, size: 27},
  showlegend: true,
  legend: {
    x: 0.649, y: 0.2515, xanchor: "left", yanchor: "top",
    bgcolor: "#ffffff", bordercolor: "#555555", borderwidth: 1,
    font: {family: FONT, size: 24, color: TEXT},
    tracegroupgap: 0, itemwidth: 40
  },
  annotations: []
};

panels.forEach((p, i) => {
  const n = i + 1;
  const xa = n === 1 ? "x" : "x" + n;
  const ya = n === 1 ? "y" : "y" + n;
  traces.push({
    type: "scatter", mode: "markers", xaxis: xa, yaxis: ya, showlegend: false,
    x: p.samples.map(d => d[0]), y: p.samples.map(d => d[1]),
    marker: {color: "#000000", size: 7, line: {width: 0}}, hoverinfo: "skip"
  });
  traces.push({
    type: "scatter", mode: "lines", xaxis: xa, yaxis: ya,
    name: legendNames[0], showlegend: i === 2, legendrank: 1,
    x: avgPeriod, y: [avgUntil1986[i], avgUntil1986[i]],
    line: {color: BLUE, width: 3}
  });
  traces.push({
    type: "scatter", mode: "lines", xaxis: xa, yaxis: ya,
    name: legendNames[1], showlegend: i === 2, legendrank: 2,
    x: avgPeriod, y: [avgAfter1986[i], avgAfter1986[i]],
    line: {color: RED, width: 3}
  });
  const xKey = n === 1 ? "xaxis" : "xaxis" + n;
  const yKey = n === 1 ? "yaxis" : "yaxis" + n;
  layout[xKey] = {
    domain: [0, 1], anchor: ya, range: [1973.06, 2016.84],
    tickmode: "array", tickvals: xTickVals, ticktext: xTickVals.map(String),
    ticks: "inside", ticklen: 7, tickwidth: 1, tickcolor: AXIS,
    ticklabelstandoff: p.standoff,
    showline: true, linecolor: AXIS, linewidth: 1, mirror: false,
    showgrid: false, zeroline: false,
    tickfont: {family: FONT, size: 27, color: TEXT}
  };
  layout[yKey] = {
    domain: p.dom, anchor: xa, range: p.range,
    tickmode: "array", tickvals: p.ticks, ticktext: p.ticks.map(yLabel),
    ticks: "inside", ticklen: 7, tickwidth: 1, tickcolor: AXIS,
    showline: true, linecolor: AXIS, linewidth: 1, mirror: false,
    showgrid: false, zeroline: false,
    tickfont: {family: FONT, size: 27, color: TEXT}
  };
  layout.annotations.push({
    xref: "paper", yref: "paper", x: p.titleX, y: p.titleY,
    xanchor: "center", yanchor: "middle", showarrow: false,
    text: panelTitles[i], font: {family: FONT, size: 37, color: "#111111"}
  });
});

layout.annotations.push({
  xref: "paper", yref: "paper", x: -0.125, y: 0.510,
  xanchor: "center", yanchor: "middle", showarrow: false, textangle: -90,
  text: yAxisTitle, font: {family: FONT, size: 37, color: TEXT}
});

Plotly.newPlot("chart", traces, layout, {displayModeBar: false, staticPlot: true});
</script>
</body>
</html>
